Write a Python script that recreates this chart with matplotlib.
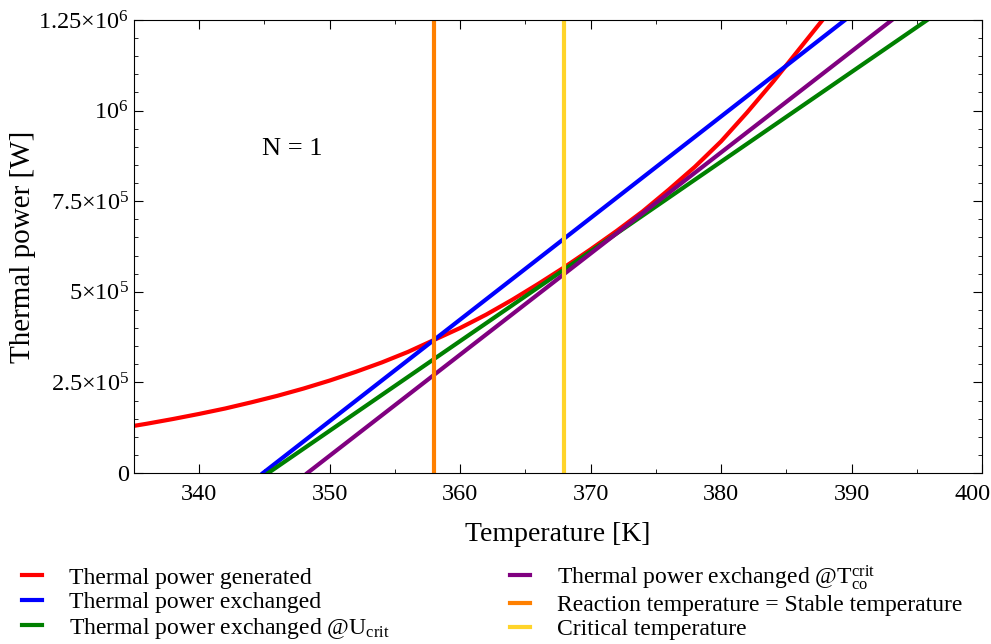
import numpy as np
import matplotlib
matplotlib.use("Agg")
import matplotlib.pyplot as plt
import matplotlib.transforms as mtransforms
from matplotlib.ticker import MultipleLocator, FixedLocator

# --- data ---
t_gen = [335, 336, 338, 340, 342, 344, 346, 348, 350, 352, 354, 356, 358,
         360, 362, 364, 366, 368, 370, 372, 374, 376, 378, 380, 382, 384,
         385, 386, 388]
q_gen = [130e3, 136e3, 149e3, 163e3, 178e3, 195e3, 213e3, 233e3, 255e3,
         279e3, 305e3, 334e3, 367e3, 400e3, 437e3, 478e3, 522e3, 568e3,
         617e3, 668e3, 722e3, 782e3, 845e3, 915e3, 995e3, 1080e3, 1125e3,
         1170e3, 1260e3]

t_exch = [344.9, 389.5]
q_exch = [0, 1.25e6]

t_ucrit = [345.3, 395.8]
q_ucrit = [0, 1.25e6]

t_tco = [348.3, 393.1]
q_tco = [0, 1.25e6]

t_stable = 358.0
t_crit = 368.0

x_ticks = [340, 350, 360, 370, 380, 390, 400]
y_ticks = [0, 2.5e5, 5e5, 7.5e5, 1e6, 1.25e6]
y_ticklabels = ["0", r"$2.5{\times}10^5$", r"$5{\times}10^5$",
                r"$7.5{\times}10^5$", r"$10^6$", r"$1.25{\times}10^6$"]

plt.rcParams["font.family"] = ["Liberation Serif", "DejaVu Serif"]
plt.rcParams["mathtext.fontset"] = "custom"
plt.rcParams["mathtext.rm"] = "Liberation Serif"
plt.rcParams["mathtext.it"] = "Liberation Serif:italic"

fig = plt.figure(figsize=(9.91, 6.44), dpi=100)
ax = fig.add_axes([0.135, 0.2655, 0.856, 0.7035])

lw = 3.0
ax.plot(t_gen, q_gen, color="red", lw=lw, label="Thermal power generated")
ax.plot(t_exch, q_exch, color="blue", lw=lw, label="Thermal power exchanged")
ax.plot(t_ucrit, q_ucrit, color="green", lw=lw,
        label=r"Thermal power exchanged @U$_{\rm crit}$")
ax.plot(t_tco, q_tco, color="purple", lw=lw,
        label=r"Thermal power exchanged @T$_{\rm co}^{\rm crit}$")
ax.axvline(t_stable, color="#ff8000", lw=lw,
           label="Reaction temperature = Stable temperature")
ax.axvline(t_crit, color="#ffd42a", lw=lw, label="Critical temperature")

ax.text(344.8, 8.95e5, "N = 1", fontsize=19, va="center")

ax.set_xlim(335, 400)
ax.set_ylim(0, 1.25e6)
ax.xaxis.set_major_locator(FixedLocator(x_ticks))
ax.set_xticklabels([str(v) for v in x_ticks])
ax.xaxis.set_minor_locator(MultipleLocator(5))
ax.yaxis.set_major_locator(FixedLocator(y_ticks))
ax.set_yticklabels(y_ticklabels)
ax.yaxis.set_minor_locator(MultipleLocator(5e4))
ax.tick_params(which="both", direction="in", top=True, right=True,
               labelsize=17.5)
ax.tick_params(which="major", length=6.5)
ax.tick_params(axis="x", which="major", pad=8)
ax.tick_params(which="minor", length=3)

ax.set_xlabel("Temperature [K]", fontsize=20, labelpad=12)
ax.set_ylabel("Thermal power [W]", fontsize=21, labelpad=1.5)

# nudge the "400" label so it stays inside the figure
for lab in ax.get_xticklabels():
    if lab.get_text() == "400":
        lab.set_transform(lab.get_transform() +
                          mtransforms.ScaledTranslation(-0.1, 0, fig.dpi_scale_trans))

h, l = ax.get_legend_handles_labels()
fig.legend(h, l, loc="upper left", bbox_to_anchor=(0.022, 0.126), ncol=2,
           frameon=False, fontsize=17, handlelength=0.85, handletextpad=1.15,
           columnspacing=5.1, labelspacing=0.12, borderaxespad=0,
           borderpad=0)

fig.savefig("out.png", dpi=100)
